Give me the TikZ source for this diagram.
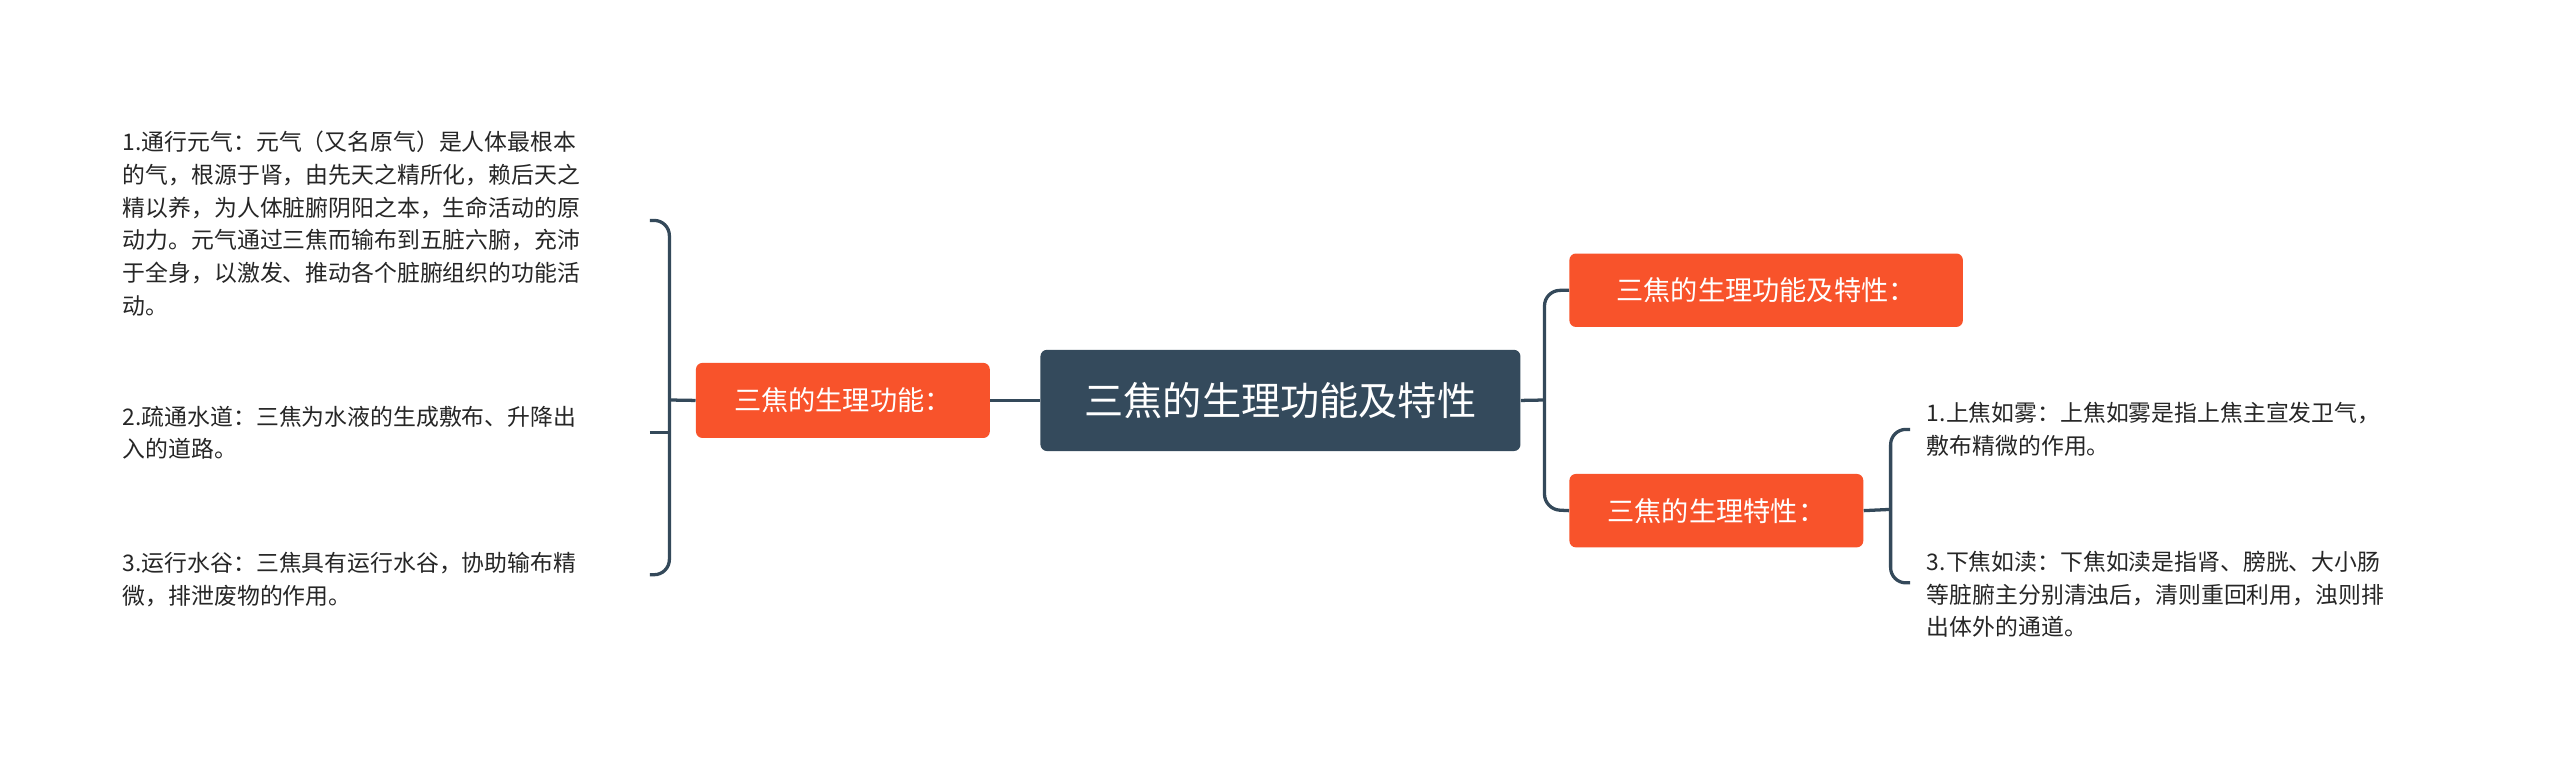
\documentclass[tikz,border=0pt]{standalone}
\usepackage{fontspec}
\setmainfont{Noto Sans CJK SC}
\definecolor{darkc}{HTML}{344A5C}
\definecolor{orc}{HTML}{F8532B}
\definecolor{linec}{HTML}{34495A}
\begin{document}
\begin{tikzpicture}[x=0.75pt,y=-0.75pt,
 box/.style={rounded corners=3pt,text=white,inner sep=0pt,anchor=north west},
 leaf/.style={inner sep=0pt,align=left,anchor=west,font=\fontsize{10.5}{15}\selectfont,text=black!85},
 conn/.style={draw=linec,line width=1.5pt,rounded corners=7pt}]
\useasboundingbox[fill=white] (0,0) rectangle (1568,468);
\node[box,fill=darkc,minimum width=294*0.75pt,minimum height=62*0.75pt,font=\fontsize{18}{20}\selectfont] (c) at (637,214) {三焦的生理功能及特性};
\node[box,fill=orc,minimum width=180*0.75pt,minimum height=46*0.75pt,font=\fontsize{12.5}{14}\selectfont] (l) at (426,222) {三焦的生理功能：};
\node[box,fill=orc,minimum width=241*0.75pt,minimum height=45*0.75pt,font=\fontsize{12.5}{14}\selectfont] (r1) at (961,155) {三焦的生理功能及特性：};
\node[box,fill=orc,minimum width=180*0.75pt,minimum height=45*0.75pt,font=\fontsize{12.5}{14}\selectfont] (r2) at (961,290) {三焦的生理特性：};
\node[leaf] (a1) at (75,137) {1.通行元气：元气（又名原气）是人体最根本\\的气，根源于肾，由先天之精所化，赖后天之\\精以养，为人体脏腑阴阳之本，生命活动的原\\动力。元气通过三焦而输布到五脏六腑，充沛\\于全身，以激发、推动各个脏腑组织的功能活\\动。};
\node[leaf] (a2) at (75,265) {2.疏通水道：三焦为水液的生成敷布、升降出\\入的道路。};
\node[leaf] (a3) at (75,355) {3.运行水谷：三焦具有运行水谷，协助输布精\\微，排泄废物的作用。};
\node[leaf] (b1) at (1180,263) {1.上焦如雾：上焦如雾是指上焦主宣发卫气，\\敷布精微的作用。};
\node[leaf] (b3) at (1180,364) {3.下焦如渎：下焦如渎是指肾、膀胱、大小肠\\等脏腑主分别清浊后，清则重回利用，浊则排\\出体外的通道。};
\coordinate (la) at (398,135);
\coordinate (lb) at (398,265);
\coordinate (lc) at (398,352);
\coordinate (ra) at (1170,263);
\coordinate (rb) at (1170,357);
\draw[conn] (c.west) -- (l.east);
\draw[conn] (la) -- (410,135) -- (410,352) -- (lc);
\draw[conn] (lb) -- (410,265);
\draw[conn] (l.west) -- (410,245);
\draw[conn] (c.east) -- (946,245);
\draw[conn] (r1.west) -- (946,178) -- (946,312) -- (r2.west);
\draw[conn] (r2.east) -- (1158,312);
\draw[conn] (ra) -- (1158,263) -- (1158,357) -- (rb);
\end{tikzpicture}
\end{document}
